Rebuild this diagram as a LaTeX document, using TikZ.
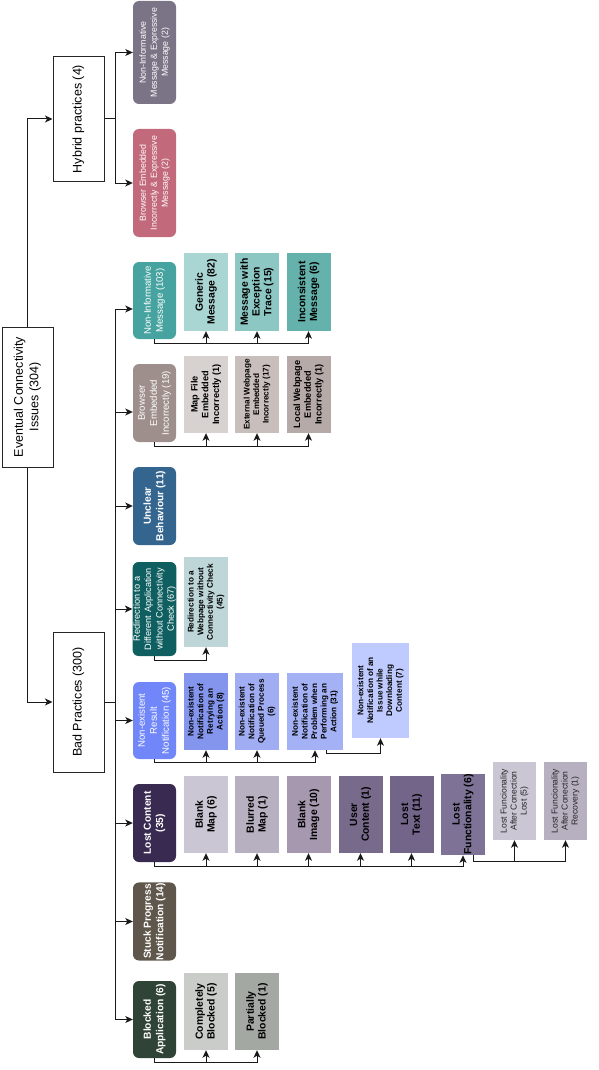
\documentclass[tikz,border=0pt]{standalone}
\usepackage{fontspec}
\setmainfont{Liberation Sans}
\usetikzlibrary{arrows.meta,calc}
\definecolor{cHa}{HTML}{7B7386}
\definecolor{cHb}{HTML}{C2697B}
\definecolor{cA}{HTML}{46A39F}
\definecolor{cB}{HTML}{9E8F8D}
\definecolor{cC}{HTML}{33658F}
\definecolor{cD}{HTML}{0F5F61}
\definecolor{cE}{HTML}{7086F9}
\definecolor{cF}{HTML}{392A52}
\definecolor{cG}{HTML}{5F574B}
\definecolor{cK}{HTML}{2F4336}
\definecolor{sAa}{HTML}{A9D5D3}
\definecolor{sAb}{HTML}{8DC7C4}
\definecolor{sAc}{HTML}{65B2AC}
\definecolor{sBa}{HTML}{D7D1D0}
\definecolor{sBb}{HTML}{C8BEBC}
\definecolor{sBc}{HTML}{B6AAA8}
\definecolor{sDa}{HTML}{BED6D8}
\definecolor{sEa}{HTML}{8495EE}
\definecolor{sEb}{HTML}{A1ADF3}
\definecolor{sEc}{HTML}{A4B1F5}
\definecolor{sEd}{HTML}{BFCAFE}
\definecolor{sFa}{HTML}{CAC6D4}
\definecolor{sFb}{HTML}{B6B0C0}
\definecolor{sFc}{HTML}{A598AF}
\definecolor{sFd}{HTML}{776A8B}
\definecolor{sFe}{HTML}{726589}
\definecolor{sFf}{HTML}{7E7396}
\definecolor{sKa}{HTML}{C9CCC8}
\definecolor{sKb}{HTML}{A3A8A2}
\tikzset{
  sz/.style 2 args={minimum width=#2 pt, minimum height=#1 pt},
  base/.style={rotate=90, inner sep=0.5pt, align=center},
  mainbox/.style={base, draw=black!85, line width=1pt, fill=white,
    font=\fontsize{12.5}{15.5}\selectfont},
  cat/.style={base, rounded corners=6pt, text=white,
    font=\fontsize{9.6}{12}\selectfont},
  catb/.style={cat, font=\bfseries\fontsize{10.2}{12.4}\selectfont},
  catr/.style={cat, font=\fontsize{9.2}{11.4}\selectfont},
  hyc/.style={cat, font=\fontsize{8.8}{11}\selectfont},
  sub/.style={base, text=black, font=\bfseries\fontsize{10.4}{11.8}\selectfont},
  subm/.style={base, text=black, font=\bfseries\fontsize{9.2}{10.8}\selectfont},
  subs/.style={base, text=black, font=\bfseries\fontsize{8.2}{9.6}\selectfont},
  subl/.style={base, text=black!85, font=\fontsize{8.6}{10}\selectfont},
  arr/.style={draw=black!90, line width=1pt, -{Stealth[length=7.5pt,width=7pt,inset=2pt]}}
}
\begin{document}
\begin{tikzpicture}[x=1pt,y=-1pt]
\useasboundingbox (0,0) rectangle (598,1070);
% main boxes
\node[mainbox, sz={51}{140}] (root) at (27.5,397) {Eventual Connectivity\\Issues (304)};
\node[mainbox, sz={51}{124}] (hyb) at (78.5,119) {Hybrid practices (4)};
\node[mainbox, sz={51}{140}] (bad) at (78.5,702) {Bad Practices (300)};
% hybrid children
\node[hyc, fill=cHa, sz={43}{103}] (hc1) at (154.5,52.5) {Non-Informative\\Message \& Expressive\\Message (2)};
\node[hyc, fill=cHb, sz={43}{108}] (hc2) at (154.5,183) {Browser Embedded\\Incorrectly \& Expressive\\Message (2)};
% categories
\node[cat, fill=cA, sz={43}{77}] (c1) at (154.5,300.5) {Non-Informative\\Message (103)};
\node[cat, fill=cB, sz={43}{78}] (c2) at (154.5,403) {Browser\\Embedded\\Incorrectly (19)};
\node[catb, fill=cC, sz={43}{78}] (c3) at (154.5,506) {Unclear\\Behaviour (11)};
\node[catr, fill=cD, sz={43}{94}] (c4) at (154.5,609) {Redirection to a\\Different Application\\without Connectivity\\Check (67)};
\node[cat, fill=cE, sz={43}{77}] (c5) at (154.5,720.5) {Non-existent\\Result\\Notification (45)};
\node[catb, fill=cF, sz={43}{78}] (c6) at (154.5,823) {Lost Content\\(35)};
\node[catb, fill=cG, sz={43}{77}] (c7) at (154.5,921.5) {Stuck Progress\\Notification (14)};
\node[catb, fill=cK, sz={43}{77}] (c8) at (154.5,1019.5) {Blocked\\Application (6)};
% subs of c1
\node[sub, fill=sAa, sz={44}{78}] (s11) at (206,292) {Generic\\Message (82)};
\node[sub, fill=sAb, sz={44}{78}] (s12) at (257,292) {Message with\\Exception\\Trace (15)};
\node[sub, fill=sAc, sz={44}{78}] (s13) at (308.5,292) {Inconsistent\\Message (6)};
% subs of c2
\node[subm, fill=sBa, sz={44}{77}] (s21) at (206,394.5) {Map File\\Embedded\\Incorrectly (1)};
\node[subs, fill=sBb, sz={44}{77}] (s22) at (257,394.5) {External Webpage\\Embedded\\Incorrectly (17)};
\node[subm, fill=sBc, sz={44}{77}] (s23) at (308.5,394.5) {Local Webpage\\Embedded\\Incorrectly (1)};
% sub of c4
\node[subs, fill=sDa, sz={44}{90}] (s41) at (206,602) {Redirection to a\\Webpage without\\Connectivity Check\\(45)};
% subs of c5
\node[subs, fill=sEa, sz={44}{77}] (s51) at (206,711.5) {Non-existent\\Notification of\\Retrying an\\Action (8)};
\node[subs, fill=sEb, sz={44}{77}] (s52) at (257,711.5) {Non-existent\\Notification of\\Queued Process\\(6)};
\node[subs, fill=sEc, sz={56}{77}] (s53) at (315,711.5) {Non-existent\\Notification of\\Problem when\\Performing an\\Action (31)};
\node[subs, fill=sEd, sz={57}{95}] (s54) at (380.5,690.5) {Non-existent\\Notification of an\\Issue while\\Downloading\\Content (7)};
% subs of c6
\node[sub, fill=sFa, sz={44}{77}] (s61) at (206,814.5) {Blank\\Map (6)};
\node[sub, fill=sFb, sz={44}{77}] (s62) at (257,814.5) {Blurred\\Map (1)};
\node[sub, fill=sFc, sz={44}{77}] (s63) at (308.5,814.5) {Blank\\Image (10)};
\node[sub, fill=sFd, sz={44}{77}] (s64) at (360.5,814.5) {User\\Content (1)};
\node[sub, fill=sFe, sz={44}{77}] (s65) at (411.5,814.5) {Lost\\Text (11)};
\node[sub, fill=sFf, sz={44}{77}] (s66) at (463,814.5) {Lost\\Functionality (6)};
\node[subl, fill=sFa, sz={43}{78}] (s71) at (514.5,801) {Lost Funcionality\\After Conection\\Lost (5)};
\node[subl, fill=sFb, sz={43}{78}] (s72) at (565.5,801) {Lost Funcionality\\After Conection\\Recovery (1)};
% subs of c8
\node[sub, fill=sKa, sz={44}{77}] (s81) at (206,1011.5) {Completely\\Blocked (5)};
\node[sub, fill=sKb, sz={44}{77}] (s82) at (257,1011.5) {Partially\\Blocked (1)};
% root connectors
\draw[arr] (root.east) |- (hyb.north);
\draw[arr] (root.west) |- (bad.north);
% hybrid
\draw[arr] (hyb.south) -- ++(11,0) |- (hc1.north);
\draw[arr] (hyb.south) -- ++(11,0) |- (hc2.north);
% bad practices trunk
\draw[arr] (bad.south) -- ++(11,0) |- ($(c1.north)+(0,8.5)$);
\draw[arr] (bad.south) -- ++(11,0) |- ($(c2.north)+(0,9)$);
\foreach \c in {c3,c4,c5,c6,c7,c8}{
  \draw[arr] (bad.south) -- ++(11,0) |- (\c.north);
}
% sub connectors
\foreach \s in {s11,s12,s13}{ \draw[arr] (c1.west) -- ++(0,4) -| (\s.west); }
\foreach \s in {s21,s22,s23}{ \draw[arr] (c2.west) -- ++(0,4) -| (\s.west); }
\draw[arr] (c4.west) -- ++(0,4) -| (s41.west);
\foreach \s in {s51,s52,s53}{ \draw[arr] (c5.west) -- ++(0,3.5) -| (\s.west); }
\draw[arr] ($(s53.west)+(11,0)$) -- ++(0,3) -| (s54.west);
\foreach \s in {s61,s62,s63,s64,s65,s66}{ \draw[arr] (c6.west) -- ++(0,4) -| (\s.west); }
\foreach \s in {s71,s72}{ \draw[arr] ($(s66.west)+(10,0)$) -- ++(0,6) -| (\s.west); }
\foreach \s in {s81,s82}{ \draw[arr] (c8.west) -- ++(0,4) -| (\s.west); }
\end{tikzpicture}
\end{document}
